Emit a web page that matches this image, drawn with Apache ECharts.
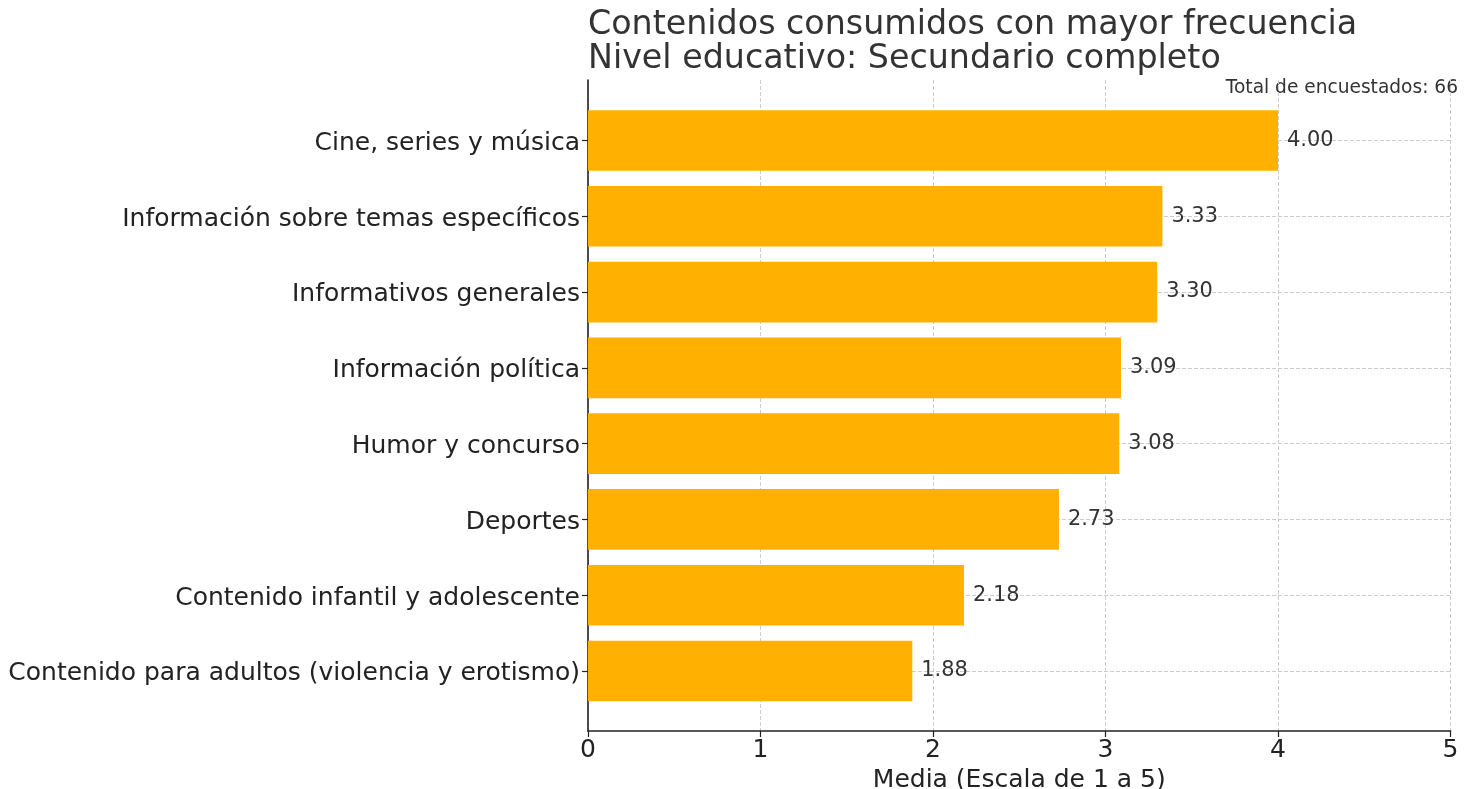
<!DOCTYPE html>
<html>
<head>
<meta charset="utf-8">
<script src="https://cdn.jsdelivr.net/npm/echarts@6/dist/echarts.min.js"></script>
<style>html,body{margin:0;padding:0;background:#fff;}#c{width:1477px;height:789px;}</style>
</head>
<body>
<div id="c"></div>
<script>
const categories = [
  "Cine, series y música",
  "Información sobre temas específicos",
  "Informativos generales",
  "Información política",
  "Humor y concurso",
  "Deportes",
  "Contenido infantil y adolescente",
  "Contenido para adultos (violencia y erotismo)"
];
const values = [4.00, 3.33, 3.30, 3.09, 3.08, 2.73, 2.18, 1.88];
const xTicks = [0, 1, 2, 3, 4, 5];
const titleLines = ["Contenidos consumidos con mayor frecuencia", "Nivel educativo: Secundario completo"];
const totalText = "Total de encuestados: 66";
const xAxisName = "Media (Escala de 1 a 5)";

const FONT = "DejaVu Sans";
const chart = echarts.init(document.getElementById('c'));
const gridLine = { show: true, lineStyle: { color: '#cccccc', type: [4, 2], width: 1 } };

chart.setOption({
  backgroundColor: '#ffffff',
  animation: false,
  textStyle: { fontFamily: FONT },
  title: {
    text: titleLines.join('\n'),
    left: 588,
    top: 9,
    padding: 0,
    textStyle: { fontFamily: FONT, fontSize: 33.3, fontWeight: 'normal', color: '#333333', lineHeight: 33.5 }
  },
  graphic: [{
    type: 'text',
    x: 1458, y: 88,
    style: { text: totalText, fontFamily: FONT, fontSize: 18.6, fill: '#333333', align: 'right', verticalAlign: 'middle' }
  }],
  grid: [
    { left: 588, right: 26.5, top: 80, bottom: 58, outerBoundsMode: 'none', containLabel: false },
    { left: 588, right: 26.5, top: 140.5, bottom: 118, outerBoundsMode: 'none', containLabel: false }
  ],
  xAxis: [
    {
      gridIndex: 0, type: 'value', min: xTicks[0], max: xTicks[xTicks.length - 1], interval: 1,
      axisLine: { show: true, lineStyle: { color: '#222222', width: 1.6 } },
      axisTick: { show: true, length: 6, lineStyle: { color: '#222222', width: 1.2 } },
      axisLabel: { show: true, margin: 7, fontFamily: FONT, fontSize: 25, color: '#222222' },
      splitLine: gridLine,
      name: xAxisName, nameLocation: 'middle', nameGap: 34,
      nameTextStyle: { fontFamily: FONT, fontSize: 25, color: '#222222' }
    },
    {
      gridIndex: 1, type: 'value', min: xTicks[0], max: xTicks[xTicks.length - 1], interval: 1, show: false
    }
  ],
  yAxis: [
    {
      gridIndex: 0, type: 'value', min: 0, max: 1,
      axisLine: { show: true, lineStyle: { color: '#222222', width: 1.6 } },
      axisTick: { show: false }, axisLabel: { show: false }, splitLine: { show: false }
    },
    {
      gridIndex: 1, type: 'category', data: categories, inverse: true, boundaryGap: false,
      axisLine: { show: false },
      axisTick: { show: true, length: 6, lineStyle: { color: '#222222', width: 1.2 } },
      axisLabel: { show: true, interval: 0, margin: 8, verticalAlign: 'top', lineHeight: 5.6, fontFamily: FONT, fontSize: 25, color: '#222222' },
      splitLine: gridLine
    }
  ],
  series: [{
    type: 'bar',
    xAxisIndex: 1, yAxisIndex: 1,
    data: values,
    barWidth: '80%',
    clip: false,
    itemStyle: { color: '#FFB000' },
    label: {
      show: true, position: 'right', distance: 9,
      formatter: p => p.value.toFixed(2),
      fontFamily: FONT, fontSize: 20.9, color: '#333333'
    }
  }]
});
</script>
</body>
</html>
